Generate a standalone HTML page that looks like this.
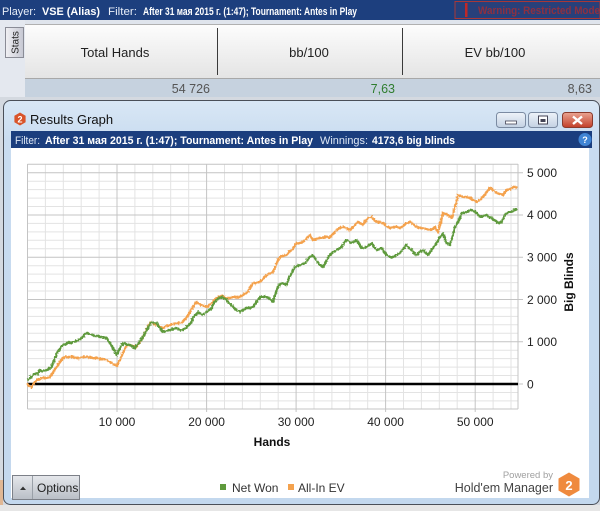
<!DOCTYPE html>
<html><head><meta charset="utf-8"><style>
html,body{margin:0;padding:0;background:#dfe4ec;}
svg{display:block;font-family:"Liberation Sans","Noto Sans CJK SC",sans-serif;}
</style></head><body>
<svg width="600" height="511" viewBox="0 0 600 511" xmlns="http://www.w3.org/2000/svg">
<defs>
<linearGradient id="hdr" x1="0" y1="0" x2="0" y2="1"><stop offset="0" stop-color="#fdfdfd"/><stop offset="1" stop-color="#e4e4e4"/></linearGradient>
<linearGradient id="win" x1="0" y1="0" x2="0" y2="1"><stop offset="0" stop-color="#d9e7f5"/><stop offset="0.1" stop-color="#c9dcf0"/><stop offset="1" stop-color="#c3d8ee"/></linearGradient>
<linearGradient id="btn" x1="0" y1="0" x2="0" y2="1"><stop offset="0" stop-color="#eef3f9"/><stop offset="1" stop-color="#c3d1e3"/></linearGradient>
<linearGradient id="cls" x1="0" y1="0" x2="0" y2="1"><stop offset="0" stop-color="#eaa592"/><stop offset="1" stop-color="#c23d28"/></linearGradient>
<linearGradient id="opt" x1="0" y1="0" x2="0" y2="1"><stop offset="0" stop-color="#e6e8ec"/><stop offset="1" stop-color="#b9bec6"/></linearGradient>
<linearGradient id="tab" x1="0" y1="0" x2="1" y2="0"><stop offset="0" stop-color="#f0f0f4"/><stop offset="1" stop-color="#c6c8d2"/></linearGradient>
<filter id="rough" filterUnits="userSpaceOnUse" x="0" y="150" width="600" height="300">
<feTurbulence type="fractalNoise" baseFrequency="0.6" numOctaves="1" seed="3" result="n"/>
<feDisplacementMap in="SourceGraphic" in2="n" scale="3.5" xChannelSelector="R" yChannelSelector="G"/>
</filter>
</defs>

<!-- background -->
<rect x="0" y="0" width="600" height="511" fill="#dfe4ec"/>
<!-- top bar -->
<rect x="0" y="0" width="600" height="20" fill="#1d3f7e"/>
<text y="15" font-size="11" fill="#e8eef8">
<tspan x="2" textLength="34" lengthAdjust="spacingAndGlyphs">Player:</tspan>
<tspan x="42" font-weight="bold" fill="#fff" textLength="58" lengthAdjust="spacingAndGlyphs">VSE (Alias)</tspan>
<tspan x="108" textLength="29" lengthAdjust="spacingAndGlyphs">Filter:</tspan>
<tspan x="143" font-weight="bold" fill="#fff" textLength="214" lengthAdjust="spacingAndGlyphs">After 31 мая 2015 г. (1:47); Tournament: Antes in Play</tspan>
</text>
<rect x="455" y="1.5" width="145" height="17" fill="#28407a" stroke="#a83838" stroke-width="1"/>
<rect x="465" y="3" width="2.5" height="14" fill="#c02828"/>
<text x="478" y="14" font-size="11" font-weight="bold" fill="#b82a2a" textLength="122" lengthAdjust="spacingAndGlyphs" opacity="0.7">Warning: Restricted Mode</text>

<!-- left strip -->
<rect x="0" y="20" width="25" height="81" fill="#e4e8ef"/>
<rect x="5.5" y="27.5" width="18" height="30" fill="url(#tab)" stroke="#8a8c96"/>
<text transform="translate(18.5,42.5) rotate(-90)" text-anchor="middle" font-size="10" fill="#222">Stats</text>

<!-- stats header -->
<rect x="25" y="24" width="575" height="54" fill="url(#hdr)"/>
<line x1="25" y1="24.5" x2="600" y2="24.5" stroke="#b0b0b0"/>
<line x1="25" y1="78.5" x2="600" y2="78.5" stroke="#a8a8a8"/>
<line x1="217.5" y1="28" x2="217.5" y2="75" stroke="#3a3a3a"/>
<line x1="402.5" y1="28" x2="402.5" y2="75" stroke="#3a3a3a"/>
<text x="115" y="57" font-size="13" fill="#222" text-anchor="middle">Total Hands</text>
<text x="309" y="57" font-size="13" fill="#222" text-anchor="middle">bb/100</text>
<text x="495" y="57" font-size="13" fill="#222" text-anchor="middle">EV bb/100</text>
<rect x="25" y="79" width="575" height="18" fill="#c6d2df"/>
<text x="210" y="93" font-size="12.5" fill="#555" text-anchor="end">54 726</text>
<text x="395" y="93" font-size="12.5" fill="#2f7d2f" text-anchor="end">7,63</text>
<text x="592" y="93" font-size="12.5" fill="#555" text-anchor="end">8,63</text>

<!-- lower background -->
<rect x="0" y="97" width="600" height="414" fill="#d4d9e0"/>
<rect x="0" y="505" width="600" height="6" fill="#e6e6e6"/>
<rect x="0" y="480" width="3" height="25" fill="#e8a060" opacity="0.6"/>

<!-- window -->
<rect x="3.5" y="100.5" width="596" height="404" rx="7" ry="7" fill="url(#win)" stroke="#4a4f58"/>
<!-- title -->
<polygon points="20,112.5 25.6,115.7 25.6,122.3 20,125.5 14.4,122.3 14.4,115.7" fill="#d9542a"/>
<text x="20" y="122.5" font-size="9" font-weight="bold" fill="#fff" text-anchor="middle">2</text>
<text x="30" y="124" font-size="13" fill="#111">Results Graph</text>
<!-- window buttons -->
<rect x="496.5" y="112.5" width="29" height="15" rx="3" fill="url(#btn)" stroke="#7b8ba2"/>
<rect x="505.5" y="121" width="11" height="3" fill="#fff" stroke="#445" stroke-width="0.8"/>
<rect x="528.5" y="112.5" width="29" height="15" rx="3" fill="url(#btn)" stroke="#7b8ba2"/>
<rect x="538.5" y="116" width="9" height="8" fill="#fff" stroke="#445" stroke-width="1"/>
<rect x="540.5" y="119" width="5" height="3" fill="#445"/>
<rect x="562.5" y="112.5" width="30" height="15" rx="3" fill="url(#cls)" stroke="#8a3a2c"/>
<path d="M573 116.5 L582 124 M582 116.5 L573 124" stroke="#fff" stroke-width="2.4"/>

<!-- filter bar -->
<rect x="11" y="131" width="581" height="17" fill="#1b3e7e"/>
<text y="144" font-size="11" fill="#dfe8f5">
<tspan x="15" textLength="25" lengthAdjust="spacingAndGlyphs">Filter:</tspan>
<tspan x="45" font-weight="bold" fill="#fff" textLength="268" lengthAdjust="spacingAndGlyphs">After 31 мая 2015 г. (1:47); Tournament: Antes in Play</tspan>
<tspan x="320" textLength="48" lengthAdjust="spacingAndGlyphs">Winnings:</tspan>
<tspan x="372" font-weight="bold" fill="#fff" textLength="83" lengthAdjust="spacingAndGlyphs">4173,6 big blinds</tspan>
</text>
<circle cx="585" cy="139.5" r="6.5" fill="#3f84d4"/>
<text x="585" y="143" font-size="9" font-weight="bold" fill="#fff" text-anchor="middle">?</text>

<!-- white content -->
<rect x="11" y="148" width="578" height="350" fill="#ffffff"/>

<!-- grid minor -->
<path fill="none" stroke="#e3e3e3" stroke-width="1" d="
M45.4 164V409 M63.3 164V409 M81.2 164V409 M99.1 164V409 M134.9 164V409 M152.8 164V409 M170.7 164V409 M188.7 164V409
M224.5 164V409 M242.4 164V409 M260.3 164V409 M278.2 164V409 M314 164V409 M331.9 164V409 M349.8 164V409 M367.7 164V409
M403.5 164V409 M421.4 164V409 M439.3 164V409 M457.2 164V409 M493.1 164V409 M511 164V409
M27.5 400.9H518 M27.5 392.5H518 M27.5 375.5H518 M27.5 367.1H518 M27.5 358.6H518 M27.5 350.2H518
M27.5 333.3H518 M27.5 324.8H518 M27.5 316.4H518 M27.5 307.9H518
M27.5 291H518 M27.5 282.6H518 M27.5 274.1H518 M27.5 265.7H518
M27.5 248.8H518 M27.5 240.3H518 M27.5 231.9H518 M27.5 223.4H518
M27.5 206.5H518 M27.5 198.1H518 M27.5 189.6H518 M27.5 181.2H518"/>
<!-- grid major -->
<path fill="none" stroke="#c4c4c4" stroke-width="1" d="
M27.5 164V409 M117 164V412 M206.6 164V412 M296.1 164V412 M385.6 164V412 M475.2 164V412 M518 164V409
M27.5 164.2H518 M27.5 172.7H523 M27.5 215H523 M27.5 257.2H523 M27.5 299.5H523 M27.5 341.7H523 M27.5 409H518"/>
<line x1="518" y1="384" x2="523" y2="384" stroke="#c4c4c4"/>

<!-- zero line -->
<line x1="27.5" y1="384" x2="518" y2="384" stroke="#000" stroke-width="2.6"/>

<g filter="url(#rough)">
<!-- All-In EV (orange) -->
<polyline fill="none" stroke="#f4a24e" stroke-width="2.4" stroke-linejoin="round" points="
27.5,384 29,386 31.7,387 34,383 36.7,380 40,379 43,378 46,378 50,377 52,374 53,372 55,369 58,365 60,362 63,358 66,357 70,357 73,357 76.7,358 80,358 83,357 86.7,357 90,357 93,358 96.7,358 100,359 103,359 106.7,360 110,362 113,364 116.7,366 118,363 120,360 122,355 125,348 127,346 130,345 133,346 136,347 140,342 143,337 145,333 148,327 150,323 151.7,322 154,324 156.7,325 160,327 163,328 166,326 170,325 173,324 176.7,323 180,323 183,322 186,318 188,315 190,312 193,307 195,304 196.7,302 199,304 201.7,305 204,306 206.7,307 209,305 211.7,303 214,300 216.7,298 219,297 221.7,296 224,297 226.7,298 230,298 233,297 236,297 240,297 243,295 246.7,293 248,291 250,288 252,285 253,283 256,283 260,282 263,279 266.7,275 270,273 273,272 275,268 276.7,263 278,260 280,257 283,256 286.7,255 289,252 291.7,250 294,247 296.7,243 300,243 303,242 306,239 310,235 313,240 316,239 320,238 325,237 330,237 333,234 336.7,230 340,228 343,227 346,228 350,230 353,227 355,225 358,222 360,223 363,225 366,220 368,218 371.7,217 374,220 376.7,222 380,222 383,223 386,226 390,228 393,227 396.7,227 400,228 403,226 406.7,223 410,222 413,224 416.7,227 420,228 423,228 426,229 430,230 433,229 435,227 437,230 438,232 440,225 443,213 446,214 448,215 451.7,218 453,213 455,207 457,199 458,195 460,196 463,197 466,197 470,198 473,200 476.7,202 480,200 483,197 486,193 490,188 493,190 496.7,193 500,194 503,195 505,192 506.7,190 510,189 513,187 515,187 517,188"/>

<!-- Net Won (green) -->
<polyline fill="none" stroke="#5f9a3c" stroke-width="2.4" stroke-linejoin="round" points="
27.3,380 30,378 33,375 36.7,373 38,374 40,370 42,371 45,371 48,369 50,368 52,366 53,363 55,358 56.7,353 59,350 61,347 63,345 66,344 69,342 71,343 73,342 76,341 79,340 82,338 85,334 86.7,333 89,334 92,335 95,336 98,336 100,337 103,337 106.7,338 108,340 110,343 112,346 114,350 116.7,355 118,352 120,348 123,343 126,344 130,345 133,347 135,348 137,345 140,341 143,337 145,333 148,328 150,324 151.7,322 154,323 156.7,323 158,326 160,328 163,332 166,331 170,330 173,329 176.7,328 180,330 183,330 186.7,327 189,325 191.7,322 193,318 195,315 198,312 201,314 203,315 205,313 206.7,312 209,310 211.7,308 214,303 216.7,300 219,298 221.7,297 224,298 226.7,300 230,304 233,307 236,310 240,312 243,310 246.7,308 250,308 253,307 256,303 260,297 263,297 266.7,297 270,299 273,302 276.7,290 279,285 281.7,283 286.7,285 289,278 291.7,273 295,267 300,265 305,263 308,259 310,257 313,255 316,260 318,263 323,267 326,262 328,258 331.7,253 336.7,250 341.7,247 344,243 346.7,240 351.7,243 356.7,240 359,244 361.7,248 366.7,247 371.7,243 374,247 376.7,250 381.7,248 384,252 386.7,255 390,257 393,257 396,255 400,253 403,249 406.7,245 409,248 411.7,250 414,253 416.7,255 420,252 423,250 426,253 428,255 431,251 433,248 436,244 438,240 441,236 443,233 445,239 446.7,243 450,245 452,238 455,227 458,222 460,218 461.7,213 464,213 466.7,212 469,211 471.7,210 474,211 476.7,213 479,216 481.7,217 484,216 486.7,215 489,217 491.7,218 494,220 496.7,222 499,223 501.7,222 503,219 505,215 507,213 510,212 513,211 517,209"/>
</g>

<!-- y labels -->
<g font-size="12" fill="#222">
<text x="527" y="177">5 000</text>
<text x="527" y="219">4 000</text>
<text x="527" y="261.5">3 000</text>
<text x="527" y="304">2 000</text>
<text x="527" y="346">1 000</text>
<text x="527" y="388.5">0</text>
</g>
<g font-size="12" fill="#222" text-anchor="middle">
<text x="117" y="426">10 000</text>
<text x="206.6" y="426">20 000</text>
<text x="296.1" y="426">30 000</text>
<text x="385.6" y="426">40 000</text>
<text x="475.2" y="426">50 000</text>
</g>
<text x="272" y="446" font-size="12" font-weight="bold" fill="#111" text-anchor="middle">Hands</text>
<text transform="translate(573,282) rotate(-90)" font-size="12" font-weight="bold" fill="#111" text-anchor="middle">Big Blinds</text>

<!-- legend -->
<rect x="220" y="484" width="6" height="6" fill="#5f9a3c"/>
<text x="232" y="492" font-size="12" fill="#333">Net Won</text>
<rect x="288" y="484" width="6" height="6" fill="#f4a24e"/>
<text x="298" y="492" font-size="12" fill="#333">All-In EV</text>

<!-- powered by -->
<text x="553" y="478" font-size="9.5" fill="#a0a0a0" text-anchor="end">Powered by</text>
<text x="553" y="492" font-size="12.5" fill="#444" text-anchor="end">Hold'em Manager</text>
<polygon points="569,472.5 579.5,478.5 579.5,490.5 569,496.5 558.5,490.5 558.5,478.5" fill="#ef8a3e"/>
<text x="569" y="490" font-size="13" font-weight="bold" fill="#fff" text-anchor="middle">2</text>

<!-- options button -->
<rect x="12.5" y="475.5" width="67" height="24" fill="url(#opt)" stroke="#7c8088"/>
<line x1="32.5" y1="476" x2="32.5" y2="499" stroke="#9aa0a8"/>
<polygon points="20,490 26,490 23,486.5" fill="#333"/>
<text x="37" y="492" font-size="12" fill="#222">Options</text>
</svg>
</body></html>
